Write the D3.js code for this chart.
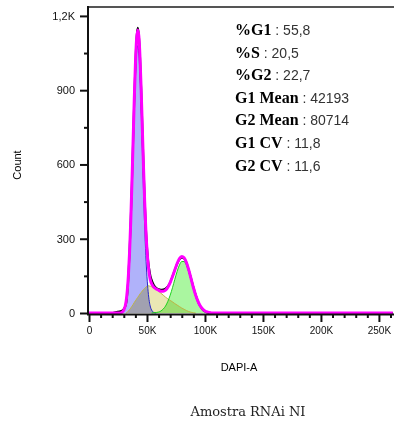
<!DOCTYPE html>
<html>
<head>
<meta charset="utf-8">
<script src="https://cdn.jsdelivr.net/npm/d3@7"></script>
<style>
  html, body { margin: 0; padding: 0; background: #fff; }
  svg { display: block; }
</style>
</head>
<body>
<script>
// DAPI-A channel positions (in thousands) where the curves are sampled
const dapiK = [0, 20, 22, 24, 26, 28, 30, 32, 33, 34, 35, 36, 37, 38, 39, 40, 41, 42, 43, 44,
  45, 46, 47, 48, 49, 50, 51, 52, 53, 54, 56, 58, 60, 62, 64, 66, 68, 70, 72, 74,
  76, 78, 80, 82, 84, 86, 88, 90, 92, 94, 96, 98, 100, 102, 104, 106, 262];

// measured histogram (cell count per channel)
const histogram = [0, 0, 2, 4, 6, 9, 16, 38, 78, 150, 250, 375, 525, 690, 858, 1005, 1110, 1152, 1122, 1035,
  905, 752, 600, 462, 350, 268, 212, 176, 150, 134, 112, 101, 96, 94, 95, 99, 108, 124, 148, 174,
  199, 216, 224, 220, 203, 174, 140, 105, 73, 46, 27, 14, 6, 2, 0, 0, 0];

// cell-cycle model: G1 peak, S phase, G2 peak and their total
const g1Fit = [0, 0, 0, 0, 0, 2, 12, 47, 86, 146, 233, 351, 495, 655, 815, 953, 1047, 1080, 1047, 953,
  815, 655, 495, 351, 233, 146, 86, 47, 24, 12, 2, 0, 0, 0, 0, 0, 0, 0, 0, 0,
  0, 0, 0, 0, 0, 0, 0, 0, 0, 0, 0, 0, 0, 0, 0, 0, 0];
const sFit = [0, 0, 0, 0, 0, 0, 0, 0, 3, 8, 14, 20, 27, 34, 42, 49, 56, 63, 70, 77,
  83, 89, 95, 100, 104, 108, 110, 109, 108, 106, 101, 95, 88, 80, 72, 64, 57, 51, 45, 38,
  32, 26, 20, 15, 10, 6, 3, 1, 0, 0, 0, 0, 0, 0, 0, 0, 0];
const g2Fit = [0, 0, 0, 0, 0, 0, 0, 0, 0, 0, 0, 0, 0, 0, 0, 0, 0, 0, 0, 0,
  0, 0, 0, 0, 0, 0, 0, 0, 0, 0, 1, 2, 4, 8, 16, 28, 47, 72, 102, 136,
  168, 194, 208, 208, 194, 168, 136, 102, 72, 47, 28, 16, 8, 4, 2, 0, 0];
const modelFit = [0, 0, 0, 0, 0, 2, 12, 47, 89, 154, 247, 371, 522, 689, 857, 1002, 1103, 1143, 1117, 1030,
  898, 744, 590, 451, 337, 254, 196, 156, 132, 118, 104, 97, 92, 88, 88, 92, 104, 123, 147, 174,
  200, 220, 228, 223, 204, 174, 139, 103, 72, 47, 28, 16, 8, 4, 2, 0, 0];

// axis ticks
const xTickValues = [0, 50000, 100000, 150000, 200000, 250000];
const xTickLabels = ["0", "50K", "100K", "150K", "200K", "250K"];
const yTickValues = [0, 300, 600, 900, 1200];
const yTickLabels = ["0", "300", "600", "900", "1,2K"];

// statistics panel
const statNames = ["%G1", "%S", "%G2", "G1 Mean", "G2 Mean", "G1 CV", "G2 CV"];
const statValues = ["55,8", "20,5", "22,7", "42193", "80714", "11,8", "11,6"];

const W = 394, H = 423;
const svg = d3.select("body").append("svg").attr("width", W).attr("height", H);

const x = d3.scaleLinear().domain([0, 262144]).range([89, 393]);
const y = d3.scaleLinear().domain([0, 1236]).range([313, 7]);

const pts = (vals) => dapiK.map((k, i) => ({ k: k * 1000, v: vals[i] }));

// keep a component only where it (or a neighbour) is above zero
const span = (vals) => pts(vals).filter((d, i) =>
  vals[i] > 0 || (i > 0 && vals[i - 1] > 0) || (i < vals.length - 1 && vals[i + 1] > 0));

const area = d3.area().x(d => x(d.k)).y0(y(0)).y1(d => y(d.v)).curve(d3.curveMonotoneX);
const line = d3.line().x(d => x(d.k)).y(d => y(d.v)).curve(d3.curveMonotoneX);

// component fills, multiplied so overlaps darken
const comps = [
  { vals: sFit, fill: "rgb(234,231,180)", stroke: "rgb(190,180,70)" },
  { vals: g1Fit, fill: "rgb(176,178,250)", stroke: "rgb(40,40,200)" },
  { vals: g2Fit, fill: "rgb(170,246,160)", stroke: "rgb(30,210,30)" }
];
const fills = svg.append("g");
comps.forEach(c => {
  fills.append("path").datum(span(c.vals)).attr("d", area)
    .attr("fill", c.fill).style("mix-blend-mode", "multiply");
});
comps.forEach(c => {
  svg.append("path").datum(span(c.vals)).attr("d", line)
    .attr("fill", "none").attr("stroke", c.stroke).attr("stroke-width", 1);
});

// measured histogram and model total
svg.append("path").datum(pts(histogram)).attr("d", line)
  .attr("fill", "none").attr("stroke", "#000").attr("stroke-width", 2);
svg.append("path").datum(pts(modelFit)).attr("d", line)
  .attr("fill", "none").attr("stroke", "#ff00ff").attr("stroke-width", 3)
  .attr("stroke-linejoin", "round");

// frame
svg.append("line").attr("x1", 88).attr("x2", W).attr("y1", 7).attr("y2", 7)
  .attr("stroke", "#555").attr("stroke-width", 2);
svg.append("line").attr("x1", 88).attr("x2", 88).attr("y1", 6).attr("y2", 315)
  .attr("stroke", "#111").attr("stroke-width", 2);
svg.append("line").attr("x1", 87).attr("x2", W).attr("y1", 314.5).attr("y2", 314.5)
  .attr("stroke", "#111").attr("stroke-width", 2);

// y axis
const yMinor = d3.range(150, 1200, 300);
const yAxis = svg.append("g").attr("transform", "translate(88,0)")
  .call(d3.axisLeft(y).tickValues(yTickValues).tickSize(8).tickPadding(5)
    .tickFormat((d, i) => yTickLabels[i]));
const yAxisMinor = svg.append("g").attr("transform", "translate(88,0)")
  .call(d3.axisLeft(y).tickValues(yMinor).tickSize(4).tickFormat(""));

// x axis
const xMinor = d3.range(10000, 262144, 10000).filter(v => v % 50000 !== 0);
const xAxis = svg.append("g").attr("transform", "translate(0,314)")
  .call(d3.axisBottom(x).tickValues(xTickValues).tickSize(8).tickPadding(5)
    .tickFormat((d, i) => xTickLabels[i]));
const xAxisMinor = svg.append("g").attr("transform", "translate(0,314)")
  .call(d3.axisBottom(x).tickValues(xMinor).tickSize(4).tickFormat(""));

[yAxis, yAxisMinor, xAxis, xAxisMinor].forEach(g => {
  g.select(".domain").remove();
  g.selectAll(".tick line").attr("stroke", "#111").attr("stroke-width", 2);
  g.selectAll("text").attr("fill", "#111")
    .style("font-family", "'Liberation Sans', Arial, sans-serif");
});
yAxis.selectAll("text").style("font-size", "11px");
xAxis.selectAll("text").style("font-size", "10px");

// axis titles
svg.append("text").attr("transform", "translate(21,165) rotate(-90)")
  .attr("text-anchor", "middle")
  .style("font-family", "'Liberation Sans', Arial, sans-serif").style("font-size", "11px")
  .text("Count");
svg.append("text").attr("x", 239).attr("y", 371).attr("text-anchor", "middle")
  .style("font-family", "'Liberation Sans', Arial, sans-serif").style("font-size", "11px")
  .text("DAPI-A");

// sample title
svg.append("text").attr("x", 248).attr("y", 416).attr("text-anchor", "middle")
  .style("font-family", "'DejaVu Serif', serif").style("font-size", "13px").attr("fill", "#222")
  .text("Amostra RNAi NI");

// statistics
const stats = svg.append("g");
statNames.forEach((n, i) => {
  const t = stats.append("text").attr("x", 235).attr("y", 35 + i * 22.6);
  t.append("tspan").style("font-family", "'Liberation Serif', 'Times New Roman', serif")
    .style("font-weight", "bold").style("font-size", "16px").attr("fill", "#000").text(n);
  t.append("tspan").style("font-family", "'Liberation Sans', Arial, sans-serif")
    .style("font-size", "14px").attr("fill", "#333").text(" : " + statValues[i]);
});
</script>
</body>
</html>
